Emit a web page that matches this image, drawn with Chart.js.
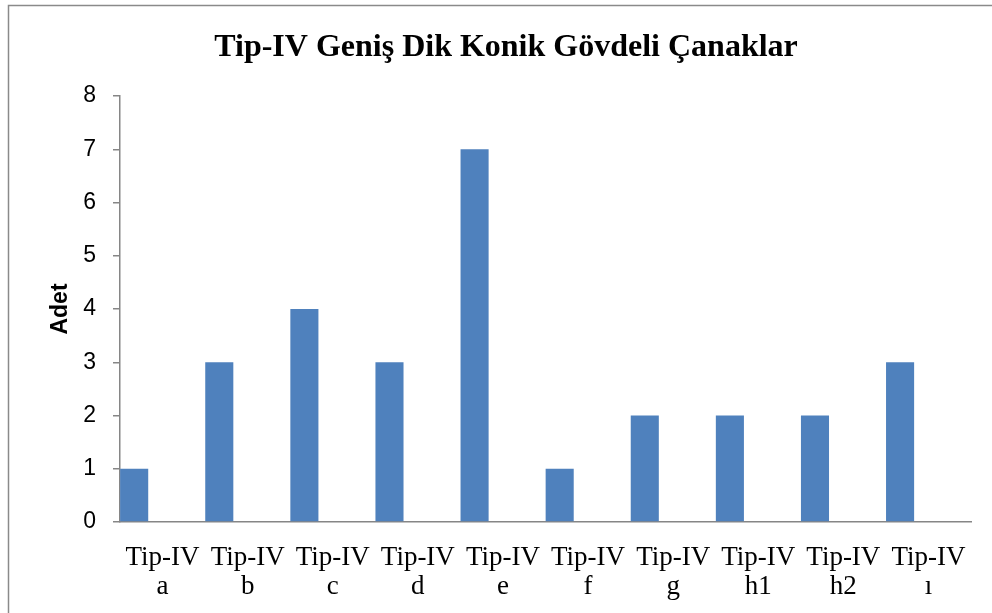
<!DOCTYPE html>
<html>
<head>
<meta charset="utf-8">
<script src="https://cdn.jsdelivr.net/npm/chart.js@4/dist/chart.umd.min.js"></script>
<style>
    html, body { margin: 0; padding: 0; background: #fff; }
    #wrap { width: 992px; height: 613px; position: relative; }
</style>
</head>
<body>
<div id="wrap"><canvas id="chart"></canvas></div>
<script>
const TITLE = "Tip-IV Geniş Dik Konik Gövdeli Çanaklar";
const AXIS_TITLE = "Adet";
const TYPE_PREFIX = "Tip-IV";
const SUBTYPES = ["a", "b", "c", "d", "e", "f", "g", "h1", "h2", "ı"];
const COUNTS = [1, 3, 4, 3, 7, 1, 2, 2, 2, 3];
// the original sheet had two more (empty) series, which is why the bars sit left in each slot
const EMPTY_A = [null, null, null, null, null, null, null, null, null, null];
const EMPTY_B = [null, null, null, null, null, null, null, null, null, null];
const Y_MIN = 0;
const Y_MAX = 8;
const Y_STEP = 1;

const AXIS_GREY = "#868686";
const BAR_BLUE = "#4F81BD";

// grey frame around the whole chart object, as in the exported sheet
const framePlugin = {
    id: "frame",
    beforeDraw(chart) {
        const ctx = chart.ctx;
        ctx.save();
        ctx.strokeStyle = "#8a8a8a";
        ctx.lineWidth = 1.5;
        ctx.strokeRect(8.5, 5.5, chart.width + 20, chart.height + 20);
        ctx.restore();
    },
};

// the sheet title is centred on the frame, not on the canvas, so draw it ourselves
const sheetTitle = {
    id: "sheetTitle",
    afterDraw(chart) {
        const ctx = chart.ctx;
        ctx.save();
        ctx.fillStyle = "#000";
        ctx.font = "bold 32px 'Liberation Serif', 'Times New Roman', serif";
        ctx.textAlign = "center";
        ctx.textBaseline = "alphabetic";
        ctx.fillText(TITLE, 506, 56);
        ctx.restore();
    },
};

new Chart(document.getElementById("chart"), {
    type: "bar",
    data: {
        labels: SUBTYPES.map((s) => [TYPE_PREFIX, s]),
        datasets: [
            { label: "Adet", data: COUNTS, backgroundColor: BAR_BLUE },
            { label: "", data: EMPTY_A, backgroundColor: BAR_BLUE },
            { label: "", data: EMPTY_B, backgroundColor: BAR_BLUE },
        ],
    },
    options: {
        responsive: true,
        maintainAspectRatio: false,
        animation: false,
        datasets: { bar: { categoryPercentage: 1.0, barPercentage: 0.99 } },
        layout: { padding: { left: 21, right: 21, top: 96, bottom: 0 } },
        plugins: {
            legend: { display: false },
            tooltip: { enabled: false },
            title: { display: false },
        },
        scales: {
            x: {
                grid: { display: false },
                border: { display: true, color: AXIS_GREY, width: 1.5 },
                ticks: {
                    color: "#000",
                    autoSkip: false,
                    maxRotation: 0,
                    padding: 13,
                    font: { family: "'Liberation Serif', 'Times New Roman', serif", size: 27, lineHeight: "29.5px" },
                },
                afterFit(scale) { scale.height = 91; },
            },
            y: {
                min: Y_MIN,
                max: Y_MAX,
                grid: { display: true, drawOnChartArea: false, drawTicks: true, tickLength: 7, color: AXIS_GREY, lineWidth: 1.5 },
                border: { display: true, color: AXIS_GREY, width: 1.5 },
                ticks: {
                    stepSize: Y_STEP,
                    color: "#000",
                    padding: 17,
                    font: { family: "'Liberation Sans', Arial, sans-serif", size: 23 },
                },
                title: {
                    display: true,
                    text: AXIS_TITLE,
                    color: "#000",
                    padding: { top: 26, bottom: 0 },
                    font: { family: "'Liberation Sans', Arial, sans-serif", size: 23, weight: "bold", lineHeight: 1.2 },
                },
                afterFit(scale) { scale.width = 99; },
            },
        },
    },
    plugins: [framePlugin, sheetTitle],
});
</script>
</body>
</html>
